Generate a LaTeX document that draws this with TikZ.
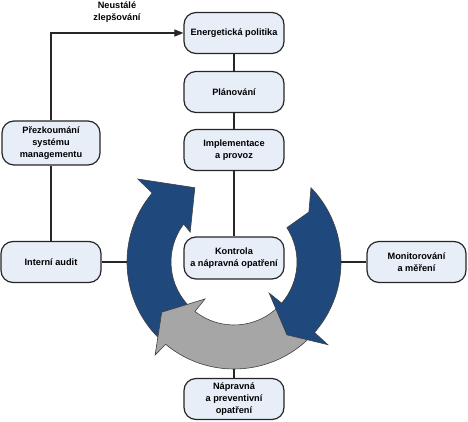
\documentclass[tikz,border=0pt]{standalone}
\usepackage{fontspec}
\setmainfont{Liberation Sans}
\usetikzlibrary{arrows.meta}

\definecolor{boxfill}{RGB}{231,238,248}
\definecolor{cyklusblue}{RGB}{31,73,125}
\definecolor{cyklusgray}{RGB}{166,166,166}

\begin{document}
\begin{tikzpicture}[x=1pt, y=1pt,
    box/.style={rectangle, rounded corners=12pt, draw=black!85, line width=1.2pt, fill=boxfill, minimum width=100pt, minimum height=41pt, inner sep=2pt, align=center, font=\fontsize{9.2}{12}\selectfont\bfseries},
    line/.style={draw=black!85, line width=1.1pt},
    arrow/.style={line, -{Triangle[length=9pt, width=7pt]}},
    cyklus/.style={draw=black!75, line width=0.6pt}
]
    \useasboundingbox (0,0) rectangle (468,421);

    % Stredni osa
    \node[box] (politika) at (234,388) {Energetická politika};
    \node[box] (planovani) at (234,329) {Plánování};
    \node[box] (implementace) at (234,271) {Implementace\\a provoz};
    \node[box, minimum height=42pt] (kontrola) at (234,163) {Kontrola\\a nápravná opatření};
    \node[box] (napravna) at (234,22) {Nápravná\\a preventivní\\opatření};

    % Vlevo
    \node[box, minimum width=98pt, minimum height=44pt] (prezkoumani) at (51,278) {Přezkoumání\\systému\\managementu};
    \node[box] (audit) at (51,159) {Interní audit};
    \node[align=center, font=\fontsize{9.2}{12}\selectfont\bfseries] (zlepsovani) at (117,409) {Neustálé\\zlepšování};

    % Vpravo
    \node[box, minimum width=99pt] (monitorovani) at (416.5,159) {Monitorování\\a měření};

    % Kruh
    \coordinate (stred) at (234,159);
    \coordinate (kruhW) at (127,159);
    \coordinate (kruhE) at (341,159);
    \coordinate (kruhS) at (234,52);

    \begin{scope}[shift={(stred)}]
        \filldraw[cyklus, fill=cyklusblue] (228:107pt) arc[start angle=228, end angle=139.9, radius=107pt] -- (139.2:127pt) -- (117.8:84pt) -- (145.7:53pt) -- (143:63pt) arc[start angle=143, end angle=228, radius=63pt] -- cycle;
        \filldraw[cyklus, fill=cyklusgray] (315:107pt) arc[start angle=315, end angle=230.3, radius=107pt] -- (229.7:122pt) -- (214.8:88pt) -- (231.9:47pt) -- (231.7:63pt) arc[start angle=231.7, end angle=315, radius=63pt] -- cycle;
        \filldraw[cyklus, fill=cyklusblue] (44:107pt) arc[start angle=44, end angle=-41.2, radius=107pt] -- (-41.4:125pt) -- (-54:90pt) -- (-41.5:47pt) -- (-40.8:63pt) arc[start angle=-40.8, end angle=33, radius=63pt] -- (33.7:90pt) -- cycle;
    \end{scope}

    % Spojnice
    \draw[line] (politika) -- (planovani);
    \draw[line] (planovani) -- (implementace);
    \draw[line] (implementace) -- (kontrola);
    \draw[line] (prezkoumani) -- (audit);
    \draw[arrow] (prezkoumani.north) |- (politika.west);
    \draw[line] (audit) -- (kruhW);
    \draw[line] (monitorovani) -- (kruhE);
    \draw[line] (napravna) -- (kruhS);
\end{tikzpicture}
\end{document}
